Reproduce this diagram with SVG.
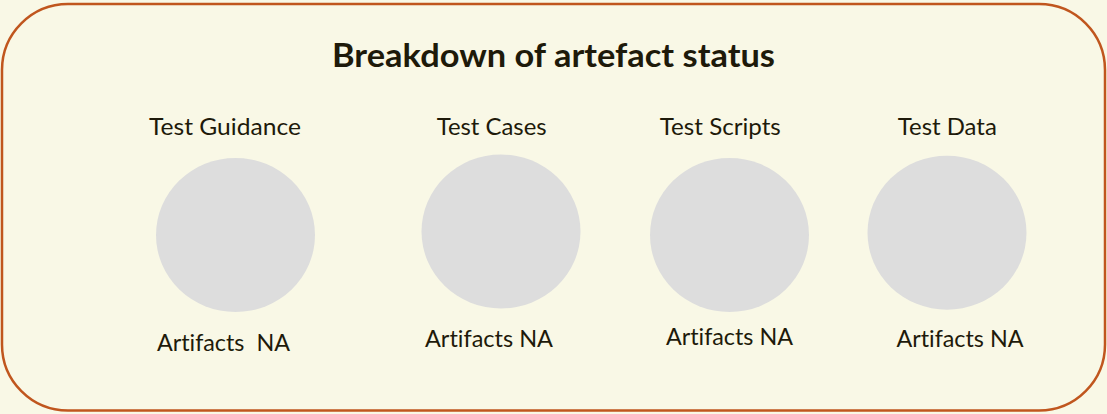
<svg xmlns="http://www.w3.org/2000/svg" width="1107" height="414" viewBox="0 0 1107 414">
<style>
.lbl{font-family:Lato,"Open Sans","Liberation Sans",sans-serif;font-size:23px;fill:#1E1A0A;text-anchor:middle;font-variant-ligatures:none}
.ttl{font-family:Lato,"Open Sans","Liberation Sans",sans-serif;font-size:32.5px;font-weight:bold;fill:#1E1A0A;text-anchor:middle;font-variant-ligatures:none}
.dot{fill:#DDDDDD}
</style>
<rect x="0" y="0" width="1107" height="414" fill="#F9F8E6"/>
<rect id="frame" x="2" y="4" width="1103" height="406.5" rx="66" ry="66" fill="#F9F8E6" stroke="#C0561E" stroke-width="2.5"/>
<text class="ttl" x="553.5" y="66.5" textLength="443" lengthAdjust="spacingAndGlyphs">Breakdown of artefact status</text>
<g id="guidance">
<text class="lbl" x="225" y="135" textLength="152" lengthAdjust="spacingAndGlyphs">Test Guidance</text>
<ellipse class="dot" cx="235.5" cy="235" rx="79.5" ry="77"/>
<text class="lbl" x="223.5" y="350.5" textLength="133" lengthAdjust="spacingAndGlyphs" xml:space="preserve">Artifacts  NA</text>
</g>
<g id="cases">
<text class="lbl" x="491.7" y="135" textLength="110" lengthAdjust="spacingAndGlyphs">Test Cases</text>
<ellipse class="dot" cx="501" cy="231.5" rx="79.5" ry="77"/>
<text class="lbl" x="489" y="346.7" textLength="128" lengthAdjust="spacingAndGlyphs">Artifacts NA</text>
</g>
<g id="scripts">
<text class="lbl" x="720.3" y="135" textLength="121" lengthAdjust="spacingAndGlyphs">Test Scripts</text>
<ellipse class="dot" cx="729.5" cy="235" rx="79.5" ry="77"/>
<text class="lbl" x="729.5" y="345" textLength="127" lengthAdjust="spacingAndGlyphs">Artifacts NA</text>
</g>
<g id="data">
<text class="lbl" x="947.3" y="135" textLength="99" lengthAdjust="spacingAndGlyphs">Test Data</text>
<ellipse class="dot" cx="947" cy="232.7" rx="79.5" ry="77"/>
<text class="lbl" x="960" y="346.7" textLength="127" lengthAdjust="spacingAndGlyphs">Artifacts NA</text>
</g>
<g id="connectors"/>
</svg>
